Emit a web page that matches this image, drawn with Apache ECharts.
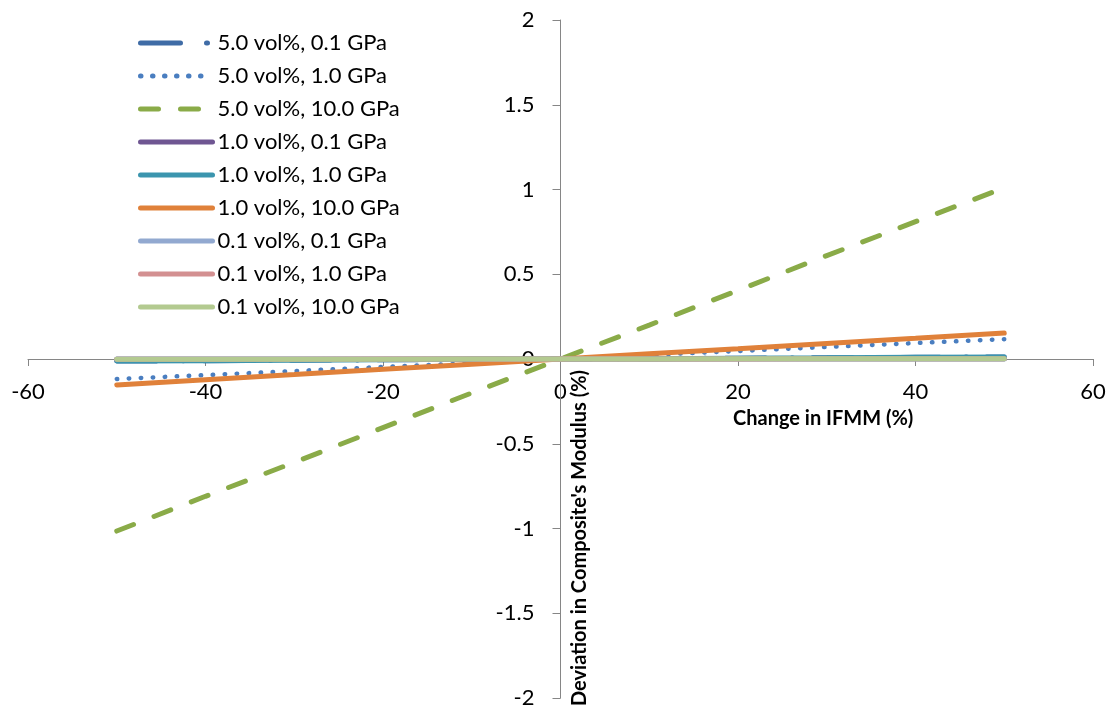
<!DOCTYPE html>
<html>
<head>
<meta charset="utf-8">
<script src="https://cdn.jsdelivr.net/npm/echarts@6/dist/echarts.min.js"></script>
<style>html,body{margin:0;padding:0;background:#fff}#c{width:1114px;height:709px}</style>
</head>
<body>
<div id="c"></div>
<script>
const xValues = [-50, -40, -30, -20, -10, 0, 10, 20, 30, 40, 50];
const seriesNames = [
  '5.0 vol%, 0.1 GPa', '5.0 vol%, 1.0 GPa', '5.0 vol%, 10.0 GPa',
  '1.0 vol%, 0.1 GPa', '1.0 vol%, 1.0 GPa', '1.0 vol%, 10.0 GPa',
  '0.1 vol%, 0.1 GPa', '0.1 vol%, 1.0 GPa', '0.1 vol%, 10.0 GPa'
];
const v5_01 = [-0.012, -0.010, -0.007, -0.005, -0.002, 0, 0.002, 0.005, 0.007, 0.010, 0.012];
const v5_1 = [-0.118, -0.095, -0.071, -0.047, -0.024, 0, 0.024, 0.047, 0.071, 0.094, 0.117];
const v5_10 = [-1.015, -0.81, -0.61, -0.405, -0.2, 0, 0.2, 0.405, 0.61, 0.81, 1.01];
const v1_01 = [-0.002, -0.002, -0.001, -0.001, 0, 0, 0, 0.001, 0.001, 0.002, 0.002];
const v1_1 = [-0.012, -0.010, -0.007, -0.005, -0.002, 0, 0.002, 0.005, 0.007, 0.010, 0.012];
const v1_10 = [-0.153, -0.122, -0.092, -0.061, -0.031, 0, 0.031, 0.061, 0.092, 0.122, 0.153];
const v01_01 = [0, 0, 0, 0, 0, 0, 0, 0, 0, 0, 0];
const v01_1 = [-0.001, -0.001, -0.001, 0, 0, 0, 0, 0, 0.001, 0.001, 0.001];
const v01_10 = [-0.002, -0.001, -0.001, -0.001, 0, 0, 0, 0.001, 0.001, 0.001, 0.002];
const allValues = [v5_01, v5_1, v5_10, v1_01, v1_1, v1_10, v01_01, v01_1, v01_10];
const xTicks = {min: -60, max: 60, interval: 20};
const yTicks = {min: -2, max: 2, interval: 0.5};

const colors = ['#3f6ca6', '#4a7ec0', '#8aab48', '#6f5692', '#3b95ae', '#e0813a', '#92a9d0', '#d39091', '#b3ca90'];
const styles = [
  {type: [40, 26, 1, 20], width: 5},
  {type: [0.5, 11.5], width: 4.5},
  {type: [18, 22], width: 5},
  {type: 'solid', width: 5},
  {type: 'solid', width: 5},
  {type: 'solid', width: 5},
  {type: 'solid', width: 5},
  {type: 'solid', width: 5},
  {type: 'solid', width: 5}
];

const series = seriesNames.map((n, i) => ({
  name: n,
  type: 'line',
  symbol: 'none',
  animation: false,
  data: xValues.map((x, j) => [x, allValues[i][j]]),
  lineStyle: {color: colors[i], width: styles[i].width, type: styles[i].type, cap: 'round'},
  itemStyle: {color: colors[i]}
}));

const W = 1114, H = 709;
const G = {left: 28, right: 21, top: 20, bottom: 11};
const gridW = W - G.left - G.right, gridH = H - G.top - G.bottom;
const font = 'Lato, "Open Sans", sans-serif';
const chart = echarts.init(document.getElementById('c'));
chart.setOption({
  backgroundColor: '#fff',
  animation: false,
  grid: {left: G.left, right: G.right, top: G.top, bottom: G.bottom, containLabel: false, outerBoundsMode: 'none'},
  legend: {
    orient: 'vertical', left: 133, top: 27,
    itemWidth: 72, itemHeight: 20, itemGap: 11,
    itemStyle: {opacity: 0},
    lineStyle: {width: 5},
    textStyle: {fontFamily: font, fontSize: 22, lineHeight: 22, color: '#000'},
    data: seriesNames
  },
  xAxis: {
    type: 'value', min: xTicks.min, max: xTicks.max, interval: xTicks.interval,
    position: 'bottom',
    offset: -gridH * (0 - yTicks.min) / (yTicks.max - yTicks.min),
    axisLine: {onZero: false, lineStyle: {color: '#868686', width: 1}},
    axisTick: {show: true, length: 7, lineStyle: {color: '#868686'}},
    splitLine: {show: false},
    axisLabel: {fontFamily: font, fontSize: 22, color: '#000', margin: 22}
  },
  yAxis: {
    type: 'value', min: yTicks.min, max: yTicks.max, interval: yTicks.interval,
    position: 'left',
    z: 3,
    offset: -gridW * (0 - xTicks.min) / (xTicks.max - xTicks.min),
    axisLine: {onZero: false, lineStyle: {color: '#868686', width: 1}},
    axisTick: {show: true, length: 8, lineStyle: {color: '#868686'}},
    splitLine: {show: false},
    axisLabel: {fontFamily: font, fontSize: 22, color: '#000', margin: 26}
  },
  graphic: [
    {type: 'text', left: 733, top: 409, style: {text: 'Change in IFMM (%)', font: 'bold 20px ' + font, fill: '#000'}},
    {type: 'text', x: 570, y: 706, rotation: Math.PI / 2, style: {text: "Deviation in Composite's Modulus (%)", font: 'bold 20px ' + font, fill: '#000'}}
  ],
  series: series
});
</script>
</body>
</html>
